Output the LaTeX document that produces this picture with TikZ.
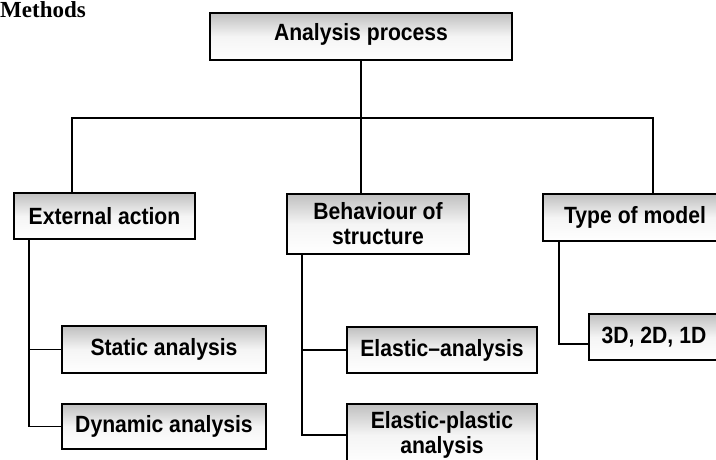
\documentclass[tikz,border=0pt]{standalone}
\usepackage{fontspec}
\setmainfont{Liberation Sans}
\newfontfamily\boxfont{Liberation Sans}[FakeStretch=0.9,Ligatures=TeX]
\newfontfamily\headfont{Liberation Serif}
\usetikzlibrary{calc,positioning}
\tikzset{
  blk/.style={draw,rectangle,line width=1.6pt,inner sep=0pt,align=center,
    font=\boxfont\bfseries\fontsize{23.5}{25}\selectfont,
    top color=gray!50,bottom color=white,middle color=gray!8},
  wire/.style={line width=1.5pt},
  head/.style={anchor=base west,inner sep=0pt,font=\headfont\bfseries\fontsize{23}{26}\selectfont}
}
\begin{document}
\begin{tikzpicture}[x=1pt,y=-1pt]
  \useasboundingbox (0,0) rectangle (716,459);
  \node[head] (ttl) at (0,17) {Methods};

  \node[blk,minimum width=302,minimum height=47,text height=16pt,text depth=8pt] (root) at (361,36.5) {Analysis process};
  \node[blk,minimum width=181,minimum height=46] (ext) at (104.5,216) {External action};
  \node[blk,minimum width=182,minimum height=60] (beh) at (378,224) {Behaviour of\\structure};
  \node[blk,minimum width=184,minimum height=47] (typ) at (635,217.5) {Type of model};
  \node[blk,minimum width=204,minimum height=47] (sta) at (164,349.5) {Static analysis};
  \node[blk,minimum width=204,minimum height=45] (dyn) at (164,426.5) {Dynamic analysis};
  \node[blk,minimum width=190,minimum height=46] (ela) at (442,350) {Elastic\textendash analysis};
  \node[blk,minimum width=190,minimum height=62] (epl) at (442,435) {Elastic-plastic\\analysis};
  \node[blk,minimum width=130,minimum height=46] (dim) at (654,337) {3D, 2D, 1D};

  % top level
  \coordinate (busL) at (72,118);
  \coordinate (busR) at (653,118);
  \draw[wire] (root.south) -- (root.south |- beh.north);
  \draw[wire] (ext.north -| busL) -- (busL) -- (busR) -- (typ.north -| busR);

  % sub levels
  \coordinate (tL) at ([xshift=16pt]ext.south west);
  \coordinate (tM) at ([xshift=16pt]beh.south west);
  \coordinate (tR) at ([xshift=17pt]typ.south west);
  \draw[wire] (tL) |- (sta.west);
  \draw[wire] (tL) |- (dyn.west);
  \draw[wire] (tM) |- (ela.west);
  \draw[wire] (tM) |- (epl.west);
  \draw[wire] (tR) |- ([yshift=-7pt]dim.west);
\end{tikzpicture}
\end{document}
